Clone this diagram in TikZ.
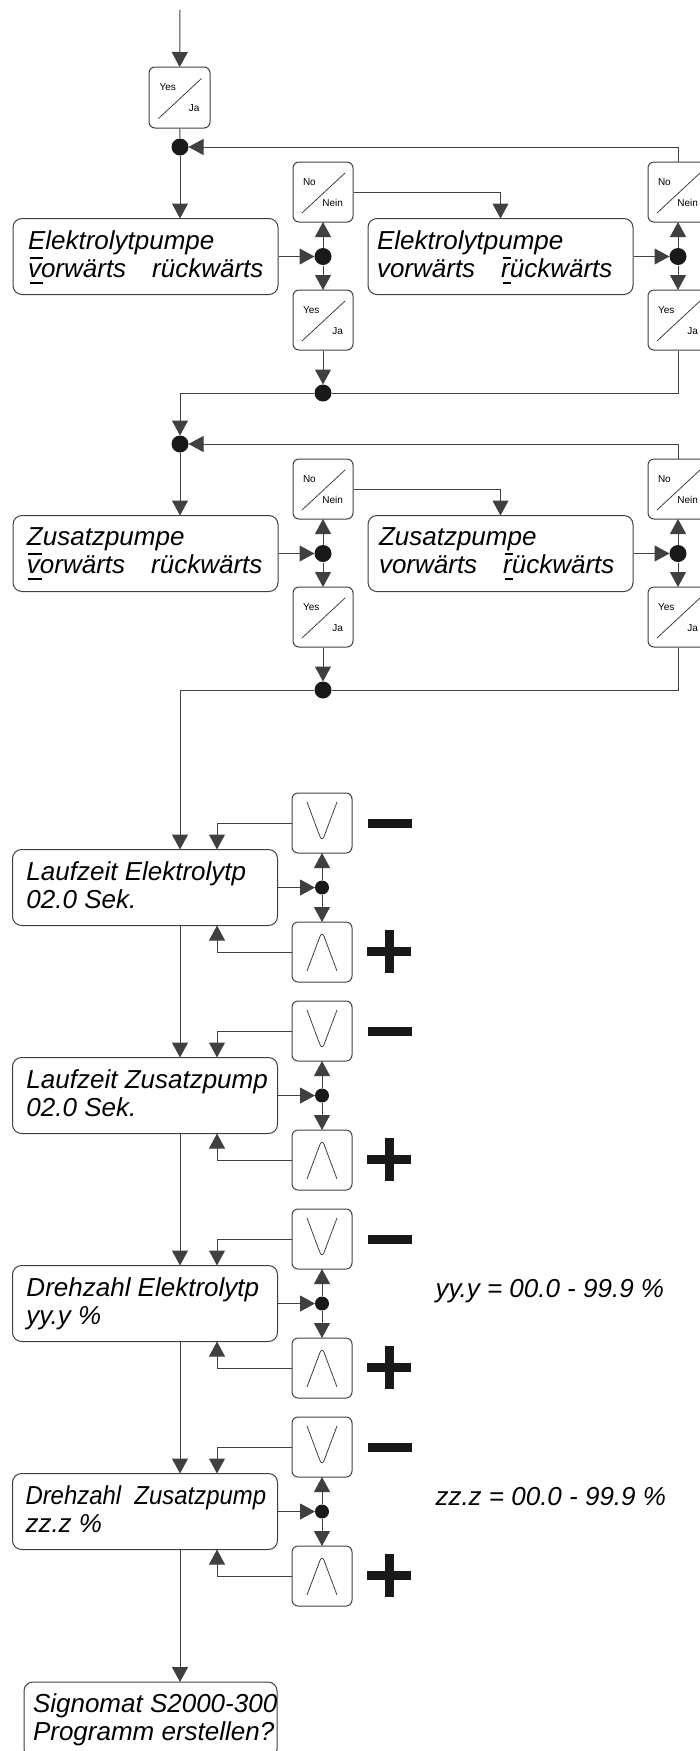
\documentclass[tikz,border=0pt]{standalone}
\usepackage{fontspec}
\usepackage{graphicx}
\setmainfont{Liberation Sans}
\usetikzlibrary{arrows.meta,calc}

% bar above and below the selected letter
\newcommand{\cursor}[1]{\setbox0\hbox{#1}\rlap{\kern1.5pt\raisebox{-6.5pt}{\rule{\wd0}{2.5pt}}}\rlap{\kern1.5pt\raisebox{18.5pt}{\rule{\wd0}{2.5pt}}}#1}

\begin{document}
\begin{tikzpicture}[x=1pt, y=-1pt, line width=1pt, draw=black!75,
  box/.style={draw, rounded corners=9pt, minimum width=265pt, minimum height=76pt, inner sep=0pt},
  txt/.style={font=\itshape\fontsize{26}{28}\selectfont, align=left, inner sep=0pt, anchor=north west},
  small/.style={font=\fontsize{10}{12}\selectfont, inner sep=0pt, text width=22pt},
  yn/.style 2 args={draw, rounded corners=6pt, minimum size=60pt, inner sep=0pt,
    label={[small, align=left, xshift=-9pt, yshift=10pt]center:#1},
    label={[small, align=right, xshift=9pt, yshift=-11pt]center:#2},
    append after command={($(\tikzlastnode.center)+(-21,21)$) edge[line width=0.8pt] ($(\tikzlastnode.center)+(22,-19)$)}},
  key/.style={draw, rounded corners=6pt, minimum size=60pt, inner sep=0pt},
  dnkey/.style={key, path picture={\draw[line width=0.8pt] ([shift={(-15pt,21pt)}]path picture bounding box.center) -- ([shift={(0pt,-19pt)}]path picture bounding box.center) -- ([shift={(15pt,21pt)}]path picture bounding box.center);}},
  upkey/.style={key, path picture={\draw[line width=0.8pt] ([shift={(-15pt,-19pt)}]path picture bounding box.center) -- ([shift={(0pt,21pt)}]path picture bounding box.center) -- ([shift={(15pt,-19pt)}]path picture bounding box.center);}},
  dot/.style={circle, fill=black!90, inner sep=0pt, minimum size=17pt},
  sdot/.style={dot, minimum size=14pt},
  flow/.style={-{Triangle[length=15pt,width=16pt]}, shorten >=-0.5pt},
  sign/.style={line width=9pt, draw=black!90}]

\useasboundingbox (0,0) rectangle (700,1751);

% entry
\coordinate (top) at (180,10);
\node[yn={Yes}{Ja}, minimum size=61pt] (yes0) at (179.5,97.5) {};
\node[dot] (jA) at (180,147) {};
\draw[flow] (top) -- (yes0);
\draw (yes0) -- (jA);

% Elektrolytpumpe: vorwaerts / rueckwaerts
\node[box] (elA) at (145.5,256.5) {};
\node[txt] (elA-t) at ($(elA.north west)+(15,12.4)$) {Elektrolytpumpe\\\cursor{v}orwärts\quad rückwärts};
\node[box] (elB) at (500.5,256.5) {};
\node[txt] (elB-t) at ($(elB.north west)+(9,12.4)$) {Elektrolytpumpe\\vorwärts\quad \cursor{r}ückwärts};
\node[yn={No}{Nein}] (noA) at (323,192) {};
\node[yn={Yes}{Ja}] (yesA) at (323,320) {};
\node[dot] (mA) at (323,256.5) {};
\node[dot] (bA) at (323,393) {};
\node[yn={No}{Nein}] (noB) at (678,192) {};
\node[yn={Yes}{Ja}] (yesB) at (678,320) {};
\node[dot] (mB) at (678,256.5) {};

\draw[flow] (jA) -- (jA |- elA.north);
\draw[flow] (elA) -- (mA);
\draw[flow] (mA) -- (noA);
\draw[flow] (mA) -- (yesA);
\draw[flow] (noA) -| (elB);
\draw[flow] (yesA) -- (bA);
\draw[flow] (elB) -- (mB);
\draw[flow] (mB) -- (noB);
\draw[flow] (mB) -- (yesB);
\draw[flow] (noB) |- (jA);
\draw (yesB) |- (bA);

% Zusatzpumpe: vorwaerts / rueckwaerts
\node[dot] (jB) at (180,444) {};
\draw[flow] (bA) -| (jB);
\node[box] (zuA) at (145.5,553.5) {};
\node[txt] (zuA-t) at ($(zuA.north west)+(14,12.4)$) {Zusatzpumpe\\\cursor{v}orwärts\quad rückwärts};
\node[box] (zuB) at (500.5,553.5) {};
\node[txt] (zuB-t) at ($(zuB.north west)+(11,12.4)$) {Zusatzpumpe\\vorwärts\quad \cursor{r}ückwärts};
\node[yn={No}{Nein}] (noC) at (323,489) {};
\node[yn={Yes}{Ja}] (yesC) at (323,617) {};
\node[dot] (mC) at (323,553.5) {};
\node[dot] (bC) at (323,690) {};
\node[yn={No}{Nein}] (noD) at (678,489) {};
\node[yn={Yes}{Ja}] (yesD) at (678,617) {};
\node[dot] (mD) at (678,553.5) {};

\draw[flow] (jB) -- (jB |- zuA.north);
\draw[flow] (zuA) -- (mC);
\draw[flow] (mC) -- (noC);
\draw[flow] (mC) -- (yesC);
\draw[flow] (noC) -| (zuB);
\draw[flow] (yesC) -- (bC);
\draw[flow] (zuB) -- (mD);
\draw[flow] (mD) -- (noD);
\draw[flow] (mD) -- (yesD);
\draw[flow] (noD) |- (jB);
\draw (yesD) |- (bC);

% Laufzeit Elektrolytpumpe
\node[box] (set1) at (145,887.5) {};
\node[txt] (set1-t) at ($(set1.north west)+(14,12.4)$) {Laufzeit Elektrolytp\\02.0 Sek.};
\node[dnkey] (dn1) at (322,823) {};
\node[upkey] (up1) at (322,952) {};
\node[sdot] (s1) at (322,887.5) {};
\draw[flow] (bC) -| (set1.north -| jA);
\draw[flow] (set1) -- (s1);
\draw[flow] (s1) -- (dn1);
\draw[flow] (s1) -- (up1);
\draw[flow] (dn1) -| ([xshift=72pt]set1.north);
\draw[flow] (up1) -| ([xshift=72pt]set1.south);
\draw[sign] ($(dn1)+(46,0)$) -- ++(44,0);
\draw[sign] ($(up1)+(45,-1)$) -- ++(44,0) ($(up1)+(67,-22)$) -- ++(0,43);

% Laufzeit Zusatzpumpe
\node[box] (set2) at (145,1095.5) {};
\node[txt] (set2-t) at ($(set2.north west)+(14,12.4)$) {Laufzeit Zusatzpump\\02.0 Sek.};
\node[dnkey] (dn2) at (322,1031) {};
\node[upkey] (up2) at (322,1160) {};
\node[sdot] (s2) at (322,1095.5) {};
\draw[flow] (set1.south -| jA) -- (set2.north -| jA);
\draw[flow] (set2) -- (s2);
\draw[flow] (s2) -- (dn2);
\draw[flow] (s2) -- (up2);
\draw[flow] (dn2) -| ([xshift=72pt]set2.north);
\draw[flow] (up2) -| ([xshift=72pt]set2.south);
\draw[sign] ($(dn2)+(46,0)$) -- ++(44,0);
\draw[sign] ($(up2)+(45,-1)$) -- ++(44,0) ($(up2)+(67,-22)$) -- ++(0,43);

% Drehzahl Elektrolytpumpe
\node[box] (set3) at (145,1303.5) {};
\node[txt] (set3-t) at ($(set3.north west)+(14,12.4)$) {Drehzahl Elektrolytp\\yy.y \%};
\node[dnkey] (dn3) at (322,1239) {};
\node[upkey] (up3) at (322,1368) {};
\node[sdot] (s3) at (322,1303.5) {};
\draw[flow] (set2.south -| jA) -- (set3.north -| jA);
\draw[flow] (set3) -- (s3);
\draw[flow] (s3) -- (dn3);
\draw[flow] (s3) -- (up3);
\draw[flow] (dn3) -| ([xshift=72pt]set3.north);
\draw[flow] (up3) -| ([xshift=72pt]set3.south);
\draw[sign] ($(dn3)+(46,0)$) -- ++(44,0);
\draw[sign] ($(up3)+(45,-1)$) -- ++(44,0) ($(up3)+(67,-22)$) -- ++(0,43);
\node[txt, anchor=base west] (range3) at (435,1297) {yy.y = 00.0 - 99.9 \%};

% Drehzahl Zusatzpumpe
\node[box] (set4) at (145,1511.5) {};
\node[txt] (set4-t) at ($(set4.north west)+(13,12.4)$) {\scalebox{0.92}[1]{Drehzahl\ \ Zusatzpump}\\zz.z \%};
\node[dnkey] (dn4) at (322,1447) {};
\node[upkey] (up4) at (322,1576) {};
\node[sdot] (s4) at (322,1511.5) {};
\draw[flow] (set3.south -| jA) -- (set4.north -| jA);
\draw[flow] (set4) -- (s4);
\draw[flow] (s4) -- (dn4);
\draw[flow] (s4) -- (up4);
\draw[flow] (dn4) -| ([xshift=72pt]set4.north);
\draw[flow] (up4) -| ([xshift=72pt]set4.south);
\draw[sign] ($(dn4)+(46,0)$) -- ++(44,0);
\draw[sign] ($(up4)+(45,-1)$) -- ++(44,0) ($(up4)+(67,-22)$) -- ++(0,43);
\node[txt, anchor=base west] (range4) at (435,1505) {zz.z = 00.0 - 99.9 \%};

% end: create program
\node[box, minimum width=253pt] (sig) at (150.5,1720) {};
\node[txt] (sig-t) at ($(sig.north west)+(9,11.5)$) {Signomat S2000-300\\Programm erstellen?};
\draw[flow] (set4.south -| jA) -- (sig.north -| jA);

\end{tikzpicture}
\end{document}
